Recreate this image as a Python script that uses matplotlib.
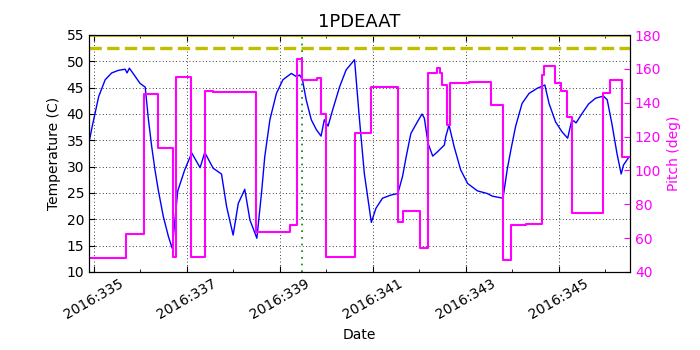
import matplotlib
matplotlib.use('Agg')
import matplotlib.pyplot as plt
from matplotlib.ticker import FixedLocator, MultipleLocator, FuncFormatter

# temperature trace (day of year 2016, deg C)
temp_day = [334.91, 334.97, 335.11, 335.25, 335.39, 335.54, 335.68, 335.72, 335.77, 335.89,
            336.00, 336.11, 336.18, 336.25, 336.32, 336.39, 336.50, 336.61, 336.69, 336.81,
            336.96, 337.11, 337.29, 337.39, 337.57, 337.75, 337.86, 338.00, 338.11, 338.25,
            338.36, 338.51, 338.61, 338.68, 338.79, 338.93, 339.07, 339.25, 339.36, 339.43,
            339.49, 339.57, 339.68, 339.79, 339.89, 339.96, 340.04, 340.14, 340.29, 340.43,
            340.61, 340.71, 340.82, 340.97, 341.07, 341.21, 341.39, 341.54, 341.64, 341.72,
            341.82, 341.96, 342.06, 342.11, 342.19, 342.29, 342.39, 342.54, 342.57, 342.64,
            342.75, 342.89, 343.04, 343.25, 343.46, 343.57, 343.80, 343.89, 343.97, 344.07,
            344.21, 344.36, 344.54, 344.70, 344.79, 344.93, 345.07, 345.19, 345.27, 345.32,
            345.37, 345.50, 345.64, 345.79, 345.96, 346.04, 346.14, 346.25, 346.34, 346.39,
            346.49]
temp_val = [34.9, 37.6, 43.3, 46.5, 47.8, 48.3, 48.5, 47.8, 48.7, 47.2,
            45.8, 45.1, 38.9, 33.8, 29.4, 25.6, 20.5, 16.7, 14.5, 25.4,
            29.4, 32.6, 29.8, 32.7, 29.7, 28.6, 22.4, 17.0, 23.0, 25.7,
            19.9, 16.4, 25.0, 31.9, 38.9, 43.9, 46.5, 47.7, 47.1, 47.4,
            46.5, 42.7, 38.9, 37.0, 35.8, 38.9, 37.7, 40.8, 45.2, 48.4,
            50.3, 39.5, 28.7, 19.4, 22.1, 24.0, 24.6, 24.9, 28.1, 31.9,
            36.3, 38.5, 40.0, 39.2, 34.4, 32.0, 32.8, 34.1, 35.7, 37.9,
            33.8, 29.4, 26.8, 25.4, 24.9, 24.4, 24.0, 29.4, 33.2, 37.6,
            42.0, 43.9, 44.9, 45.5, 42.0, 38.5, 36.6, 35.4, 38.5, 38.7,
            38.3, 40.1, 41.9, 43.0, 43.4, 42.7, 38.2, 32.5, 28.6, 30.3,
            31.6]

# pitch (deg), value holds from each time until the next
pitch_day = [334.91, 335.70, 336.09, 336.39, 336.71, 336.77, 337.09, 337.39, 337.56, 338.50,
             339.23, 339.38, 339.49, 339.81, 339.89, 340.00, 340.61, 340.97, 341.54, 341.66,
             342.02, 342.18, 342.38, 342.45, 342.50, 342.59, 342.66, 343.07, 343.54, 343.80,
             343.97, 344.30, 344.63, 344.69, 344.91, 345.04, 345.18, 345.29, 345.96, 346.11,
             346.36, 346.50]
pitch_val = [48.0, 62.3, 145.0, 113.4, 49.0, 155.4, 49.0, 147.1, 146.5, 63.8,
             67.6, 165.8, 153.2, 154.5, 133.5, 49.0, 121.9, 149.5, 69.3, 76.0,
             54.0, 157.4, 160.7, 157.4, 150.5, 126.8, 151.5, 152.0, 138.4, 47.1,
             67.8, 68.4, 156.4, 161.9, 151.5, 147.1, 131.7, 74.7, 145.5, 153.4,
             108.1, 108.1]

major_days = [335, 337, 339, 341, 343, 345]
planning_limit = 52.5
event_day = 339.49

fig = plt.figure(figsize=(7, 3.5), dpi=100)
ax = fig.add_axes([0.127, 0.223, 0.773, 0.677])

ax.plot(temp_day, temp_val, color='b', linewidth=1)
ax.axhline(planning_limit, color='y', linestyle='--', linewidth=2.4)
ax.axhline(55, color='y', linewidth=2)
ax.axvline(event_day, color='g', linestyle=(0, (1, 3)), linewidth=1.2)

ax.set_xlim(334.9, 346.53)
ax.set_ylim(10, 55)
ax.set_title('1PDEAAT', fontsize=13)
ax.set_xlabel('Date', fontsize=10)
ax.set_ylabel('Temperature (C)', fontsize=10)
ax.xaxis.set_major_locator(FixedLocator(major_days))
ax.xaxis.set_minor_locator(MultipleLocator(1))
ax.xaxis.set_major_formatter(FuncFormatter(lambda d, pos: f'2016:{int(round(d))}'))
ax.yaxis.set_major_locator(MultipleLocator(5))
ax.tick_params(axis='both', which='both', direction='in', top=True, labelsize=10)
ax.tick_params(axis='both', which='major', length=4)
ax.tick_params(axis='both', which='minor', length=2)
for lbl in ax.get_xticklabels():
    lbl.set_rotation(30)
    lbl.set_ha('center')
ax.grid(True, which='major', color='k', linestyle=(0, (1, 3)), linewidth=0.6)

ax2 = ax.twinx()
ax2.plot(pitch_day, pitch_val, color='magenta', linewidth=1.5, drawstyle='steps-post')
ax2.set_ylim(40, 180)
ax2.set_ylabel('Pitch (deg)', color='magenta', fontsize=10)
ax2.yaxis.set_major_locator(MultipleLocator(20))
ax2.tick_params(axis='y', direction='in', colors='magenta', labelsize=10, length=4)
ax2.spines['right'].set_color('k')

fig.savefig('out.png', dpi=100)
